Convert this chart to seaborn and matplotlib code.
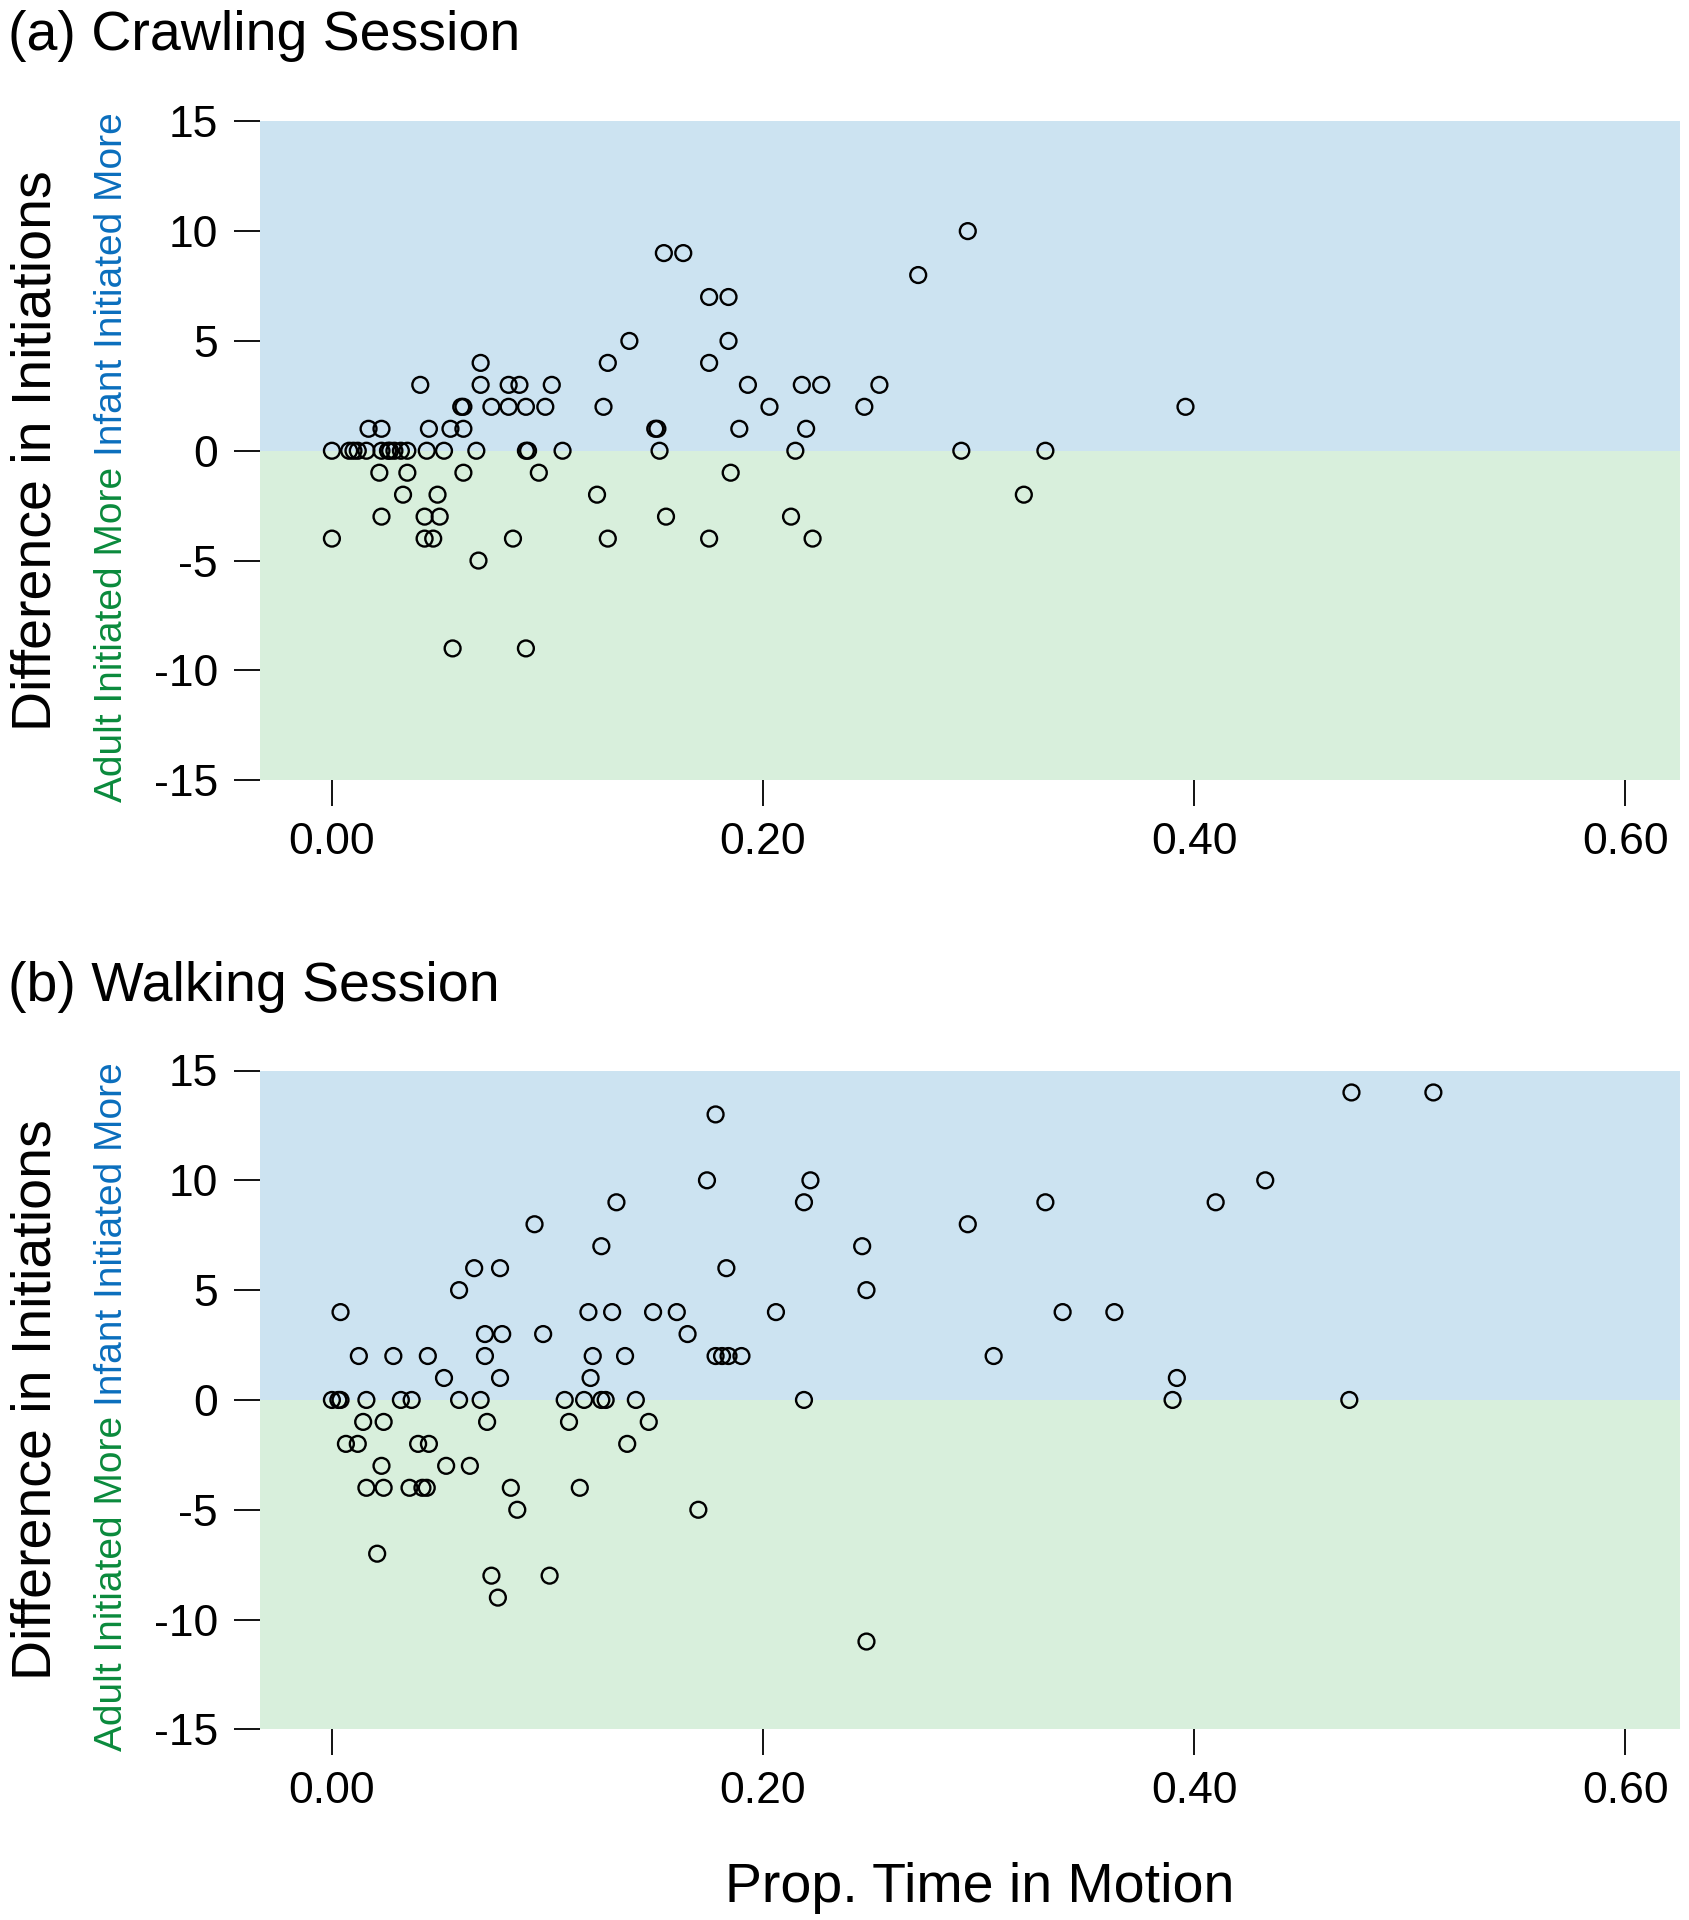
import numpy as np
import pandas as pd
import matplotlib
matplotlib.use("Agg")
import matplotlib.pyplot as plt
import seaborn as sns

# ---------------- data ----------------
a_prop = [0.295,
          0.154, 0.163,
          0.272,
          0.175, 0.184,
          0.138, 0.184,
          0.069, 0.128, 0.175,
          0.041, 0.069, 0.082, 0.087, 0.102, 0.193, 0.218, 0.227, 0.254,
          0.060, 0.061, 0.074, 0.082, 0.090, 0.099, 0.126, 0.203, 0.247, 0.396,
          0.017, 0.023, 0.045, 0.055, 0.061, 0.150, 0.151, 0.189, 0.220,
          0.000, 0.008, 0.010, 0.012, 0.016, 0.023, 0.026, 0.027, 0.029, 0.032,
          0.035, 0.044, 0.052, 0.067, 0.090, 0.091, 0.107, 0.152, 0.215, 0.292, 0.331,
          0.022, 0.035, 0.061, 0.096, 0.185,
          0.033, 0.049, 0.123, 0.321,
          0.023, 0.043, 0.050, 0.155, 0.213,
          0.000, 0.043, 0.047, 0.084, 0.128, 0.175, 0.223,
          0.068,
          0.056, 0.090]
a_diff = [10,
          9, 9,
          8,
          7, 7,
          5, 5,
          4, 4, 4,
          3, 3, 3, 3, 3, 3, 3, 3, 3,
          2, 2, 2, 2, 2, 2, 2, 2, 2, 2,
          1, 1, 1, 1, 1, 1, 1, 1, 1,
          0, 0, 0, 0, 0, 0, 0, 0, 0, 0,
          0, 0, 0, 0, 0, 0, 0, 0, 0, 0, 0,
          -1, -1, -1, -1, -1,
          -2, -2, -2, -2,
          -3, -3, -3, -3, -3,
          -4, -4, -4, -4, -4, -4, -4,
          -5,
          -9, -9]

b_prop = [0.473, 0.511,
          0.178,
          0.174, 0.222, 0.433,
          0.132, 0.219, 0.331, 0.410,
          0.094, 0.295,
          0.125, 0.246,
          0.066, 0.078, 0.183,
          0.059, 0.248,
          0.004, 0.119, 0.130, 0.149, 0.160, 0.206, 0.339, 0.363,
          0.071, 0.079, 0.098, 0.165,
          0.0125, 0.0285, 0.0445, 0.071, 0.121, 0.136, 0.178, 0.181, 0.184, 0.190, 0.307,
          0.052, 0.078, 0.120, 0.392,
          0.000, 0.003, 0.004, 0.016, 0.032, 0.037, 0.059, 0.069, 0.108, 0.117,
          0.125, 0.127, 0.141, 0.219, 0.390, 0.472,
          0.0145, 0.024, 0.072, 0.110, 0.147,
          0.0065, 0.012, 0.040, 0.045, 0.137,
          0.023, 0.053, 0.064,
          0.016, 0.024, 0.036, 0.042, 0.044, 0.083, 0.115,
          0.086, 0.170,
          0.021,
          0.074, 0.101,
          0.077,
          0.248]
b_diff = [14, 14,
          13,
          10, 10, 10,
          9, 9, 9, 9,
          8, 8,
          7, 7,
          6, 6, 6,
          5, 5,
          4, 4, 4, 4, 4, 4, 4, 4,
          3, 3, 3, 3,
          2, 2, 2, 2, 2, 2, 2, 2, 2, 2, 2,
          1, 1, 1, 1,
          0, 0, 0, 0, 0, 0, 0, 0, 0, 0,
          0, 0, 0, 0, 0, 0,
          -1, -1, -1, -1, -1,
          -2, -2, -2, -2, -2,
          -3, -3, -3,
          -4, -4, -4, -4, -4, -4, -4,
          -5, -5,
          -7,
          -8, -8,
          -9,
          -11]

titles = ["(a) Crawling Session", "(b) Walking Session"]
x_ticks = [0.0, 0.2, 0.4, 0.6]
y_ticks = [-15, -10, -5, 0, 5, 10, 15]
ylabel = "Difference in Initiations"
xlabel = "Prop. Time in Motion"
infant_txt = "Infant Initiated More"
adult_txt = "Adult Initiated More"

# ---------------- style ----------------
sns.set_style("white")
plt.rcParams["font.family"] = ["Liberation Sans", "DejaVu Sans"]
plt.rcParams["axes.unicode_minus"] = False
plt.rcParams["text.color"] = "black"
plt.rcParams["axes.labelcolor"] = "black"
plt.rcParams["xtick.color"] = "black"
plt.rcParams["ytick.color"] = "black"

W, H = 1689, 1920
fig = plt.figure(figsize=(W / 100, H / 100), dpi=100)

BLUE_BG = "#cce3f1"
GREEN_BG = "#d8efdc"
BLUE_TXT = "#0a6ebd"
GREEN_TXT = "#0a8a3c"

panels = [
    (pd.DataFrame({"prop": a_prop, "diff": a_diff}), 121.3, 780.2, 49.5),
    (pd.DataFrame({"prop": b_prop, "diff": b_diff}), 1070.5, 1729.4, 1001),
]

left_px, right_px = 259.7, 1680.4
for i, (df, top_px, bot_px, title_base) in enumerate(panels):
    ax = fig.add_axes([left_px / W, 1 - bot_px / H, (right_px - left_px) / W, (bot_px - top_px) / H])
    ax.axhspan(0, 15, color=BLUE_BG, zorder=0, lw=0)
    ax.axhspan(-15, 0, color=GREEN_BG, zorder=0, lw=0)
    sns.scatterplot(data=df, x="prop", y="diff", ax=ax, s=130, marker="o",
                    facecolor="none", edgecolor="black", linewidth=1.7, zorder=3)
    ax.set_xlim(-0.0335, 0.6256)
    ax.set_ylim(-15, 15)
    ax.set_xticks(x_ticks)
    ax.set_xticklabels([f"{v:.2f}" for v in x_ticks])
    ax.set_yticks(y_ticks)
    ax.set_yticklabels([str(v) for v in y_ticks])
    for s in ax.spines.values():
        s.set_visible(False)
    ax.tick_params(axis="both", direction="out", length=19, width=1.3, color="black",
                   labelcolor="black", labelsize=32, pad=11, left=True, bottom=True)
    ax.set_xlabel("")
    ax.set_ylabel("")
    ax.grid(False)

    # titles
    fig.text(8 / W, 1 - title_base / H, titles[i], fontsize=40, ha="left", va="baseline")

    # y labels
    cy = 1 - ((top_px + bot_px) / 2) / H
    fig.text(51 / W, cy, ylabel, fontsize=40, rotation=90, rotation_mode="anchor",
             ha="center", va="baseline")
    fig.text(122 / W, cy - 5.7 / H, infant_txt, fontsize=28, rotation=90, rotation_mode="anchor",
             ha="left", va="baseline", color=BLUE_TXT)
    fig.text(122 / W, cy - 16.3 / H, adult_txt, fontsize=28, rotation=90, rotation_mode="anchor",
             ha="right", va="baseline", color=GREEN_TXT)

fig.text(980 / W, 1 - 1902 / H, xlabel, fontsize=40, ha="center", va="baseline")

fig.savefig("out.png", dpi=100)
